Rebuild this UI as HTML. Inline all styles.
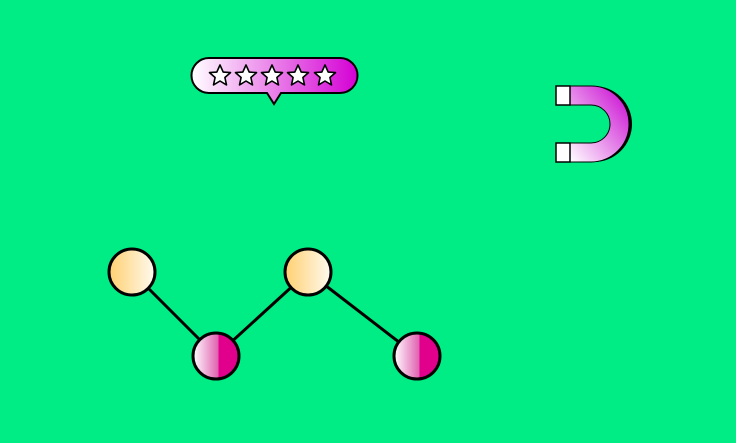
<!DOCTYPE html>
<html><head><style>html,body{margin:0;padding:0;background:#00ec84;width:736px;height:443px;overflow:hidden}</style></head>
<body>
<svg width="736" height="443" viewBox="0 0 736 443" xmlns="http://www.w3.org/2000/svg">
<defs>
<linearGradient id="bub" x1="0" x2="1" y1="0" y2="0"><stop offset="0" stop-color="#fff"/><stop offset="1" stop-color="#d400d4"/></linearGradient>
<linearGradient id="mag" x1="0" x2="1" y1="1" y2="0"><stop offset="0" stop-color="#fff"/><stop offset="1" stop-color="#c800d0"/></linearGradient>
<linearGradient id="yel" x1="0" x2="1"><stop offset="0" stop-color="#ffd070"/><stop offset="1" stop-color="#fffaf0"/></linearGradient>
<linearGradient id="pink" x1="0" x2="1"><stop offset="0" stop-color="#fff"/><stop offset="0.55" stop-color="#e060b0"/><stop offset="0.56" stop-color="#e0008c"/><stop offset="1" stop-color="#e0008c"/></linearGradient>
<polygon id="star" points="0,-11 3.2,-3.9 10.5,-3.4 4.9,1.5 6.5,8.9 0,5 -6.5,8.9 -4.9,1.5 -10.5,-3.4 -3.2,-3.9" fill="#fff" stroke="#000" stroke-width="1.6" stroke-linejoin="round"/>
</defs>
<!-- bubble -->
<path d="M209,58 H340 A17.5,17.5 0 0 1 340,93 H281 L274,104 L267,93 H209 A17.5,17.5 0 0 1 209,58 Z" fill="url(#bub)" stroke="#000" stroke-width="2"/>
<use href="#star" x="220" y="76"/><use href="#star" x="246" y="76"/><use href="#star" x="272" y="76"/><use href="#star" x="298" y="76"/><use href="#star" x="325" y="76"/>
<!-- magnet -->
<path d="M573,86 H594 A38,38 0 0 1 594,162 H573 V143 H594 A19,19 0 0 0 594,105 H573 Z" fill="#000"/>
<path d="M570,86 H591 A38,38 0 0 1 591,162 H570 V143 H591 A19,19 0 0 0 591,105 H570 Z" fill="url(#mag)" stroke="#000" stroke-width="1"/>
<rect x="556" y="86" width="14" height="19" fill="#fff" stroke="#000" stroke-width="1.5"/>
<rect x="556" y="143" width="14" height="19" fill="#fff" stroke="#000" stroke-width="1.5"/>
<!-- graph -->
<g stroke="#000" stroke-width="3">
<line x1="132" y1="272" x2="216" y2="356"/><line x1="216" y1="356" x2="308" y2="272"/><line x1="308" y1="272" x2="417" y2="356"/>
<circle cx="132" cy="272" r="23" fill="url(#yel)"/>
<circle cx="308" cy="272" r="23" fill="url(#yel)"/>
<circle cx="216" cy="356" r="23" fill="url(#pink)"/>
<circle cx="417" cy="356" r="23" fill="url(#pink)"/>
</g>
</svg>
</body></html>
